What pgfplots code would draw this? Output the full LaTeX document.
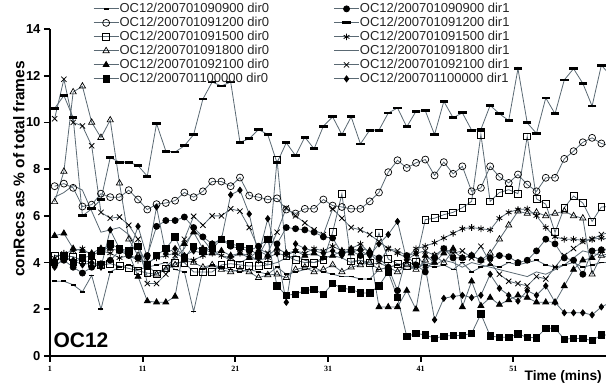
\documentclass[border=0pt]{standalone}
\usepackage{fontspec}
\setmainfont{Liberation Sans}
\newfontfamily\serifb{Liberation Serif}
\usepackage{pgfplots}
\usepackage{pgfplotstable}
\pgfplotsset{compat=1.18}
\definecolor{ln}{RGB}{90,105,115}
\pgfplotstableread{
x s1 s2 s3 s4 s5 s6 s7 s8 s9 s10 s11 s12
1.5 3.2 7.27 4.3 6.6 5.15 4.0 3.9 10.6 4.2 6.8 10.16 3.8
2.5 3.2 7.38 4.3 7.9 5.25 4.3 4.1 11.15 4.4 7.0 11.85 4.2
3.5 3.05 7.2 4.25 11.3 4.6 4.0 3.8 10.2 4.5 7.3 10.0 4.1
4.5 2.75 6.4 4.1 11.55 4.5 4.2 3.55 6.0 4.6 7.1 9.85 3.9
5.5 3.45 6.48 4.0 10.0 4.4 4.3 3.8 6.3 4.3 6.2 9.0 4.0
6.5 2.0 6.95 3.9 9.35 4.6 4.5 3.95 6.7 4.5 5.3 6.15 3.8
7.5 3.6 6.8 3.95 10.1 4.6 4.8 4.1 8.5 4.4 5.4 5.9 5.4
8.5 3.8 6.8 3.85 7.4 4.5 4.6 4.5 8.3 4.2 5.5 5.95 4.6
9.5 3.9 7.1 3.75 5.0 4.4 4.5 4.3 8.3 4.3 5.2 5.6 4.4
10.5 3.7 6.7 3.65 4.3 3.4 4.7 4.2 8.15 4.1 4.6 5.0 5.55
11.5 3.8 6.27 3.55 3.9 2.35 3.9 4.3 7.7 4.0 3.4 3.1 4.2
12.5 3.9 6.5 3.5 3.5 2.3 4.3 5.55 9.95 4.2 3.5 3.1 6.38
13.5 4.0 6.55 3.75 3.7 2.3 4.6 5.8 8.77 4.3 3.8 3.5 4.4
14.5 3.7 6.65 4.0 3.9 2.55 5.1 5.8 8.73 4.4 4.2 4.3 4.6
15.5 3.6 7.0 4.0 4.1 4.8 4.2 5.95 9.0 4.2 4.6 5.0 4.3
16.5 1.9 6.8 3.6 4.0 5.3 4.7 5.5 9.48 4.1 5.4 5.98 4.5
17.5 3.7 7.05 3.6 3.8 4.6 4.5 5.1 11.0 4.3 5.0 5.6 4.4
18.5 3.9 7.47 3.6 3.9 4.4 4.6 4.8 11.73 4.4 4.5 6.0 4.8
19.5 3.8 7.47 3.9 3.7 4.5 5.0 5.0 11.56 4.3 4.3 6.0 5.0
20.5 3.7 7.27 3.95 3.6 4.3 4.8 4.7 11.73 4.2 4.1 6.3 6.9
21.5 3.6 7.64 3.9 3.7 4.4 4.7 4.6 9.15 4.4 4.0 6.2 7.1
22.5 3.7 6.87 3.85 3.6 4.2 4.6 4.5 9.3 4.3 4.2 5.5 6.08
23.5 3.6 6.8 3.85 3.35 4.5 4.3 4.7 9.7 4.1 4.1 4.6 4.3
24.5 3.5 6.7 3.9 3.47 4.3 5.0 5.0 9.48 4.2 3.9 4.4 5.88
25.5 3.8 6.75 8.4 3.5 4.6 3.0 4.8 8.27 4.4 4.0 5.3 4.4
26.5 3.5 6.27 4.3 3.35 4.4 2.6 5.5 9.13 4.3 4.2 6.34 2.3
27.5 3.6 6.1 4.1 3.7 4.5 2.65 5.45 8.58 4.5 4.3 6.0 4.8
28.5 3.7 6.3 4.0 3.8 4.3 2.8 5.4 9.37 4.4 4.1 5.7 4.6
29.5 3.8 6.3 4.0 3.6 4.4 2.85 5.3 8.87 4.6 4.0 5.4 4.5
30.5 3.6 6.7 4.1 3.7 4.2 2.65 5.1 9.84 4.5 4.2 5.2 4.4
31.5 3.5 6.44 5.3 3.9 4.3 3.1 5.05 10.24 4.7 4.3 6.3 4.5
32.5 3.4 6.38 6.94 3.6 4.5 2.9 4.4 9.48 4.5 4.2 5.9 4.3
33.5 3.4 6.3 4.05 3.8 4.4 2.85 4.5 10.24 4.6 4.0 5.5 4.6
34.5 3.3 6.3 4.1 3.9 4.6 2.7 4.3 9.08 4.8 4.1 5.4 4.5
35.5 3.3 6.62 4.0 4.0 4.5 2.7 4.4 9.67 4.4 3.9 5.2 4.3
36.5 3.7 7.0 5.26 3.7 2.1 3.0 4.2 9.67 4.0 4.0 4.9 4.8
37.5 3.8 7.87 4.15 3.8 2.1 3.6 3.8 10.4 4.6 3.8 4.6 5.2
38.5 3.9 8.38 3.95 3.6 2.1 2.5 2.8 10.62 4.4 3.9 4.5 5.76
39.5 3.7 8.05 3.86 3.9 2.8 0.83 4.3 9.81 4.2 4.0 4.3 4.1
40.5 3.8 8.27 4.05 3.7 2.0 0.97 3.9 10.48 4.6 3.7 4.4 4.4
41.5 3.9 8.41 5.84 4.1 4.3 0.9 3.6 10.5 4.7 4.0 4.5 3.8
42.5 3.8 7.73 5.9 4.3 4.0 0.76 4.2 9.48 4.85 3.9 4.3 1.55
43.5 3.9 8.3 6.05 4.0 4.4 0.85 4.6 10.9 5.05 4.1 4.6 2.47
44.5 3.7 7.8 6.15 4.5 4.6 0.88 4.2 10.2 5.25 4.0 4.4 2.55
45.5 4.0 8.12 6.35 4.2 2.1 0.88 4.2 10.41 5.45 3.8 4.5 2.6
46.5 3.6 7.05 6.62 4.3 3.2 0.97 4.3 9.67 5.5 4.0 4.2 2.5
47.5 3.8 7.2 9.48 4.1 2.15 1.8 4.1 9.7 5.45 3.9 4.7 2.6
48.5 3.9 8.12 6.62 4.4 2.5 0.86 4.2 10.73 5.4 3.8 4.0 3.5
49.5 3.8 7.67 7.0 5.0 2.2 0.8 4.3 10.37 5.9 3.7 3.5 2.9
50.5 4.0 7.41 7.12 5.6 2.4 0.8 4.25 10.08 6.15 3.6 3.2 2.6
51.5 3.9 7.77 6.95 6.2 2.6 0.94 4.0 12.3 6.27 3.5 3.1 2.35
52.5 4.0 7.34 9.4 6.1 2.5 0.8 4.1 9.98 6.3 3.4 3.0 2.8
53.5 4.1 7.05 6.73 6.15 2.3 0.78 4.5 9.53 6.0 3.6 3.4 2.6
54.5 3.9 7.63 6.5 6.0 2.3 1.19 5.0 11.05 5.5 3.5 3.3 3.0
55.5 3.8 7.63 5.3 6.1 2.3 1.19 4.8 10.37 5.1 3.7 3.8 2.3
56.5 3.9 8.44 6.35 6.2 3.0 0.72 4.2 11.82 5.0 3.9 4.3 1.85
57.5 4.0 8.77 6.85 6.0 3.7 0.75 4.1 12.3 5.0 4.2 4.6 1.85
58.5 3.8 9.15 6.55 5.9 4.1 0.75 3.5 11.67 4.95 4.5 4.9 1.85
59.5 3.9 9.34 5.76 3.5 4.2 0.66 4.5 10.7 5.0 4.4 5.0 1.76
60.5 4.0 9.1 6.38 4.3 4.5 0.9 4.55 12.45 5.05 4.3 5.2 2.1
61.5 4.0 9.0 6.4 4.4 4.6 0.9 4.6 12.0 5.0 4.2 5.3 2.3
}\data
\begin{document}
\begin{tikzpicture}
\begin{axis}[
  scale only axis, width=556pt, height=327pt,
  xmin=1, xmax=61, ymin=0, ymax=14,
  axis lines*=left,
  axis line style={line width=1.8pt, black},
  xtick={1,11,21,31,41,51}, ytick={0,2,...,14},
  tick align=outside, major tick length=6pt,
  tick style={line width=1.8pt, black},
  /pgf/number format/assume math mode=true,
  xticklabel style={font=\serifb\bfseries\fontsize{8}{8}\selectfont, yshift=-1pt},
  yticklabel style={font=\bfseries\fontsize{13}{13}\selectfont},
  ylabel={conRecs as \% of total frames},
  ylabel style={at={(axis description cs:-0.056,0.572)}, anchor=center, font=\bfseries\fontsize{15.5}{15.5}\selectfont},
  xlabel={Time (mins)},
  xlabel style={at={(axis description cs:0.923,-0.064)}, anchor=center, font=\bfseries\fontsize{13.8}{13.8}\selectfont},
  legend columns=6, transpose legend,
  legend cell align=left,
  legend style={at={(0.072,1.088)}, anchor=north west, draw=none, fill=none,
    font=\fontsize{13}{13}\selectfont, text=black!85,
    row sep=1.1pt,
    nodes={inner sep=0.5pt, text height=9.4pt, text depth=2.5pt},
    /tikz/every even column/.append style={column sep=64pt}},
  legend image code/.code={\draw[mark repeat=2,mark phase=2,#1] plot coordinates {(0pt,0pt)(12.5pt,0pt)(25pt,0pt)};},
  every axis plot/.append style={ln, line width=0.8pt},
]
\addplot[mark=-, mark size=2.5pt, mark options={black, solid, line width=1.6pt}] table[x=x,y=s1]{\data};
\addlegendentry{OC12/200701090900 dir0}
\addplot[mark=o, mark size=3.5pt, mark options={draw=black, fill=white, solid, line width=0.7pt}] table[x=x,y=s2]{\data};
\addlegendentry{OC12/200701091200 dir0}
\addplot[mark=square, mark size=3.4pt, mark options={draw=black, fill=white, solid, line width=0.7pt}] table[x=x,y=s3]{\data};
\addlegendentry{OC12/200701091500 dir0}
\addplot[mark=triangle, mark size=3.6pt, mark options={draw=black, fill=white, solid, line width=0.7pt}] table[x=x,y=s4]{\data};
\addlegendentry{OC12/200701091800 dir0}
\addplot[mark=triangle*, mark size=3.4pt, mark options={draw=black, fill=black, solid}] table[x=x,y=s5]{\data};
\addlegendentry{OC12/200701092100 dir0}
\addplot[mark=square*, mark size=3.2pt, mark options={draw=black, fill=black, solid}] table[x=x,y=s6]{\data};
\addlegendentry{OC12/200701100000 dir0}
\addplot[mark=*, mark size=3pt, mark options={draw=black, fill=black, solid}] table[x=x,y=s7]{\data};
\addlegendentry{OC12/200701090900 dir1}
\addplot[mark=-, mark size=4.2pt, mark options={black, solid, line width=2.8pt}] table[x=x,y=s8]{\data};
\addlegendentry{OC12/200701091200 dir1}
\addplot[mark=asterisk, mark size=3.3pt, mark options={black, solid, line width=0.8pt}] table[x=x,y=s9]{\data};
\addlegendentry{OC12/200701091500 dir1}
\addplot[no marks] table[x=x,y=s10]{\data};
\addlegendentry{OC12/200701091800 dir1}
\addplot[mark=x, mark size=3.7pt, mark options={black, solid, line width=0.8pt}] table[x=x,y=s11]{\data};
\addlegendentry{OC12/200701092100 dir1}
\addplot[mark=diamond*, mark size=3pt, mark options={draw=black, fill=black, solid}] table[x=x,y=s12]{\data};
\addlegendentry{OC12/200701100000 dir1}
\node[anchor=south west, inner sep=0pt, font=\bfseries\fontsize{21}{21}\selectfont] at (rel axis cs:0.006,0.024) {OC12};
\end{axis}
\pgfresetboundingbox
\path[use as bounding box] (-50pt,-32pt) rectangle (556pt,356pt);
\end{tikzpicture}
\end{document}
